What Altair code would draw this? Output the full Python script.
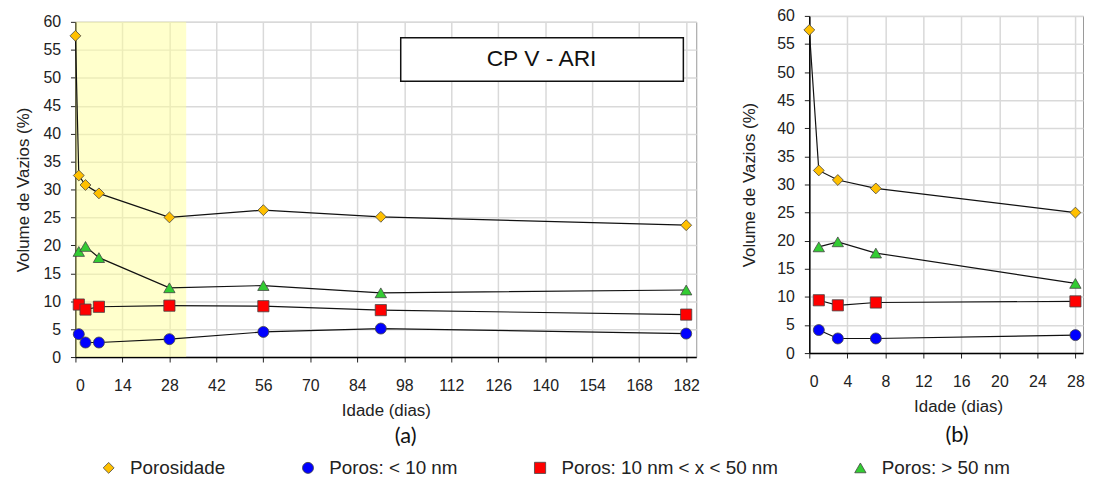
import altair as alt
import pandas as pd

# ---------------- data ----------------
series_names = ["Porosidade", "Poros: < 10 nm", "Poros: 10 nm < x < 50 nm", "Poros: > 50 nm"]
series_colors = ["#FFC000", "#0000FF", "#FF0000", "#33CC33"]
series_shapes = ["diamond", "circle", "square", "triangle-up"]
series_sizes = [120, 130, 140, 150]

days_porosidade = [0, 1, 3, 7, 28, 56, 91, 182]
porosidade = [57.5, 32.5, 30.8, 29.3, 25.0, 26.3, 25.1, 23.6]

days_poros = [1, 3, 7, 28, 56, 91, 182]
poros_lt10 = [4.1, 2.6, 2.6, 3.2, 4.5, 5.1, 4.2]
poros_10_50 = [9.4, 8.5, 9.0, 9.2, 9.1, 8.4, 7.6]
poros_gt50 = [18.9, 19.8, 17.8, 12.4, 12.8, 11.5, 12.0]

x_ticks_a = [0, 14, 28, 42, 56, 70, 84, 98, 112, 126, 140, 154, 168, 182]
x_ticks_b = [0, 4, 8, 12, 16, 20, 24, 28]
y_ticks = [0, 5, 10, 15, 20, 25, 30, 35, 40, 45, 50, 55, 60]

shade_start = [0]
shade_end = [33]
box_label = ["CP V - ARI"]
panel_labels = ["(a)", "(b)"]

rows = []
for d, v in zip(days_porosidade, porosidade):
    rows.append({"day": d, "value": v, "series": series_names[0]})
for name, vals in zip(series_names[1:], [poros_lt10, poros_10_50, poros_gt50]):
    for d, v in zip(days_poros, vals):
        rows.append({"day": d, "value": v, "series": name})
df = pd.DataFrame(rows)
df_b = df[df["day"] <= 28]

shade_df = pd.DataFrame({"start": shade_start, "end": shade_end})
box_df = pd.DataFrame({"label": box_label})

# ---------------- encodings ----------------
FONT = "Liberation Sans"
TXT = "#222222"

legend = alt.Legend(
    title=None, orient="none", legendX=24, legendY=446, direction="horizontal",
    labelFont=FONT, labelFontSize=19, labelColor=TXT, labelOffset=12, labelLimit=400,
    columnPadding=73, symbolStrokeColor="#444444", symbolStrokeWidth=0.8,
)
color_enc = alt.Color("series:N", scale=alt.Scale(domain=series_names, range=series_colors), legend=legend)
shape_enc = alt.Shape("series:N", scale=alt.Scale(domain=series_names, range=series_shapes), legend=legend)
size_enc = alt.Size("series:N", scale=alt.Scale(domain=series_names, range=series_sizes), legend=legend)


def x_enc(field, domain, ticks, title_x=None):
    kw = dict(values=ticks, title="Idade (dias)")
    if title_x is not None:
        kw["titleX"] = title_x
    return alt.X(field, scale=alt.Scale(domain=domain, nice=False, zero=False),
                 axis=alt.Axis(**kw))


def y_enc(title_pad):
    return alt.Y("value:Q", scale=alt.Scale(domain=[0, 60], nice=False),
                 axis=alt.Axis(values=y_ticks, title="Volume de Vazios (%)",
                               titlePadding=title_pad))


def panel(data, xdomain, xticks, W, H, title_pad, title_x, panel_label,
          lab_x, lab_y, with_shade=False, with_box=False):
    layers = []
    if with_shade:
        layers.append(
            alt.Chart(shade_df).mark_rect(color="#FFFF99", opacity=0.5).encode(
                x=x_enc("start:Q", xdomain, xticks, title_x), x2="end:Q",
                y=alt.value(0), y2=alt.value(H))
        )
    lines = alt.Chart(data).mark_line(color="#111111", strokeWidth=1.2).encode(
        x=x_enc("day:Q", xdomain, xticks, title_x),
        y=y_enc(title_pad),
        detail="series:N",
        order="day:Q",
    )
    pts = alt.Chart(data).mark_point(filled=True, opacity=1, stroke="#444444", strokeWidth=0.8).encode(
        x=x_enc("day:Q", xdomain, xticks, title_x),
        y=y_enc(title_pad),
        color=color_enc, shape=shape_enc, size=size_enc,
    )
    layers += [lines, pts]
    if with_box:
        layers.append(
            alt.Chart(box_df).mark_rect(fill="white", stroke="#111111", strokeWidth=1.5).encode(
                x=alt.value(328), x2=alt.value(613), y=alt.value(16), y2=alt.value(60))
        )
        layers.append(
            alt.Chart(box_df).mark_text(font=FONT, fontSize=23, color="#111111").encode(
                x=alt.value(470), y=alt.value(38), text="label:N")
        )
    layers.append(
        alt.Chart(pd.DataFrame({"p": [panel_label]})).mark_text(
            font="Lato", fontSize=22, color="#111111", baseline="middle").encode(
            x=alt.value(lab_x), y=alt.value(lab_y), text="p:N")
    )
    return alt.layer(*layers).properties(width=W, height=H)


spacer = alt.Chart(pd.DataFrame({"t": [""]})).mark_text().encode(text="t:N").properties(
    width=626, height=1, view=alt.ViewBackground(stroke="transparent"))

left = panel(df, [0, 185], x_ticks_a, 626, 338, 11, None, panel_labels[0],
             333, 418, with_shade=True, with_box=True)
right = panel(df_b, [0, 28.8], x_ticks_b, 276, 340, 18, 150, panel_labels[1],
              149, 423)

left_col = alt.vconcat(spacer, left, spacing=5, bounds="flush")

chart = alt.hconcat(left_col, right, spacing=40).properties(
    padding={"left": 5, "top": -3, "right": 0, "bottom": 0}
).configure_axis(
    labelFont=FONT, labelFontSize=16, labelColor=TXT,
    titleFont=FONT, titleFontSize=17, titleFontWeight="normal", titleColor=TXT,
    domainColor="#000000", domainWidth=1.5, tickColor=TXT, tickSize=5, tickWidth=1,
    gridColor="#d9d9d9", gridWidth=1.5,
).configure_axisX(labelPadding=16, titlePadding=9).configure_axisY(labelPadding=10).configure_view(
    stroke="#999999", strokeWidth=1)

chart.save("out.html", embed_options={"renderer": "svg", "actions": False})
